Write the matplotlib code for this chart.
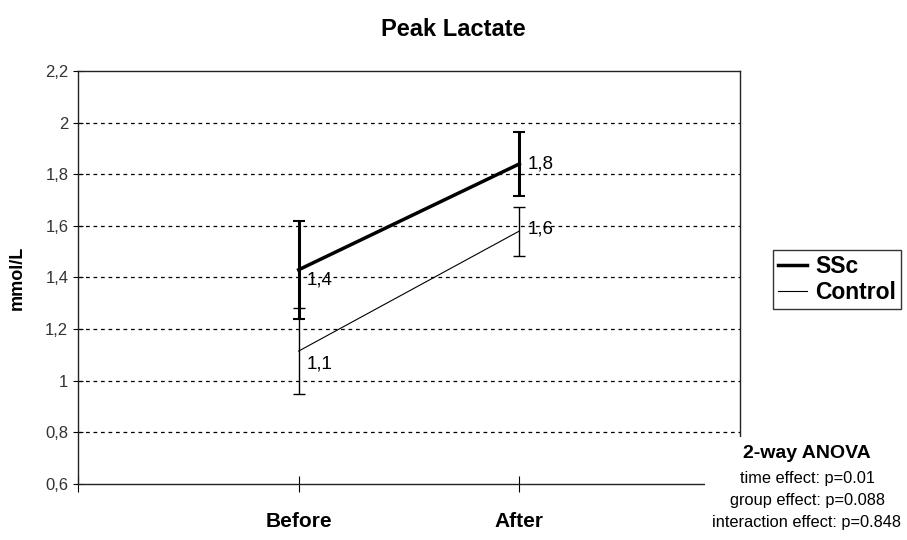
import matplotlib.pyplot as plt
from matplotlib.patches import Rectangle
from matplotlib.lines import Line2D
from matplotlib.ticker import FuncFormatter

plt.rcParams['font.family'] = ['Liberation Sans', 'DejaVu Sans']

# data
categories = ['Before', 'After']
ssc = [1.43, 1.84]
ssc_err = [0.19, 0.125]
control = [1.115, 1.58]
control_err = [0.165, 0.095]
ssc_labels = ['1,4', '1,8']
control_labels = ['1,1', '1,6']
anova_lines = ['time effect: p=0.01', 'group effect: p=0.088',
               'interaction effect: p=0.848']


def main():
    fig = plt.figure(figsize=(9.07, 5.40), dpi=100)
    ax = fig.add_axes([78 / 907, 1 - 484 / 540, (740 - 78) / 907, (484 - 71) / 540])

    x = [1, 2]
    ax.errorbar(x, ssc, yerr=ssc_err, color='black', lw=2.5, elinewidth=2.2,
                capsize=4, capthick=1.5, zorder=4)
    ax.errorbar(x, control, yerr=control_err, color='black', lw=0.8,
                elinewidth=1.0, capsize=4, capthick=1.0, zorder=3)

    # data labels
    offsets = [(8, -10), (8, 0)]
    for xi, v, lab, off in zip(x, ssc, ssc_labels, offsets):
        ax.annotate(lab, (xi, v), xytext=off, textcoords='offset pixels',
                    ha='left', va='center', fontsize=13.5, zorder=6)
    offsets = [(8, -13), (8, 2)]
    for xi, v, lab, off in zip(x, control, control_labels, offsets):
        ax.annotate(lab, (xi, v), xytext=off, textcoords='offset pixels',
                    ha='left', va='center', fontsize=13.5, zorder=6)

    ax.set_xlim(0, 3)
    ax.set_ylim(0.6, 2.2)
    ax.set_xticks([0, 1, 2])
    ax.set_xticklabels(['', categories[0], categories[1]], fontsize=15, fontweight='bold')
    ax.set_yticks([0.6 + 0.2 * i for i in range(9)])
    ax.yaxis.set_major_formatter(FuncFormatter(lambda v, p: f'{v:.1f}'.rstrip('0').rstrip('.').replace('.', ',')))
    ax.tick_params(axis='y', labelsize=12, direction='inout', length=7, labelcolor='#333333')
    ax.tick_params(axis='x', direction='inout', length=12, pad=14)
    for s in ax.spines.values():
        s.set_linewidth(1.0)
        s.set_color('#222222')

    for v in [0.8 + 0.2 * i for i in range(7)]:
        ax.axhline(v, color='black', lw=0.9, ls=(0, (3, 3)), zorder=1)

    ax.set_ylabel('mmol/L', fontsize=13, fontweight='bold', labelpad=14)
    fig.text(453 / 907, 1 - 30 / 540, 'Peak Lactate', ha='center', va='center',
             fontsize=17, fontweight='bold')

    handles = [Line2D([], [], color='black', lw=2.5),
               Line2D([], [], color='black', lw=0.8)]
    leg = fig.legend(handles, ['SSc', 'Control'], loc='upper left',
                     bbox_to_anchor=(773 / 907, 1 - 250 / 540),
                     prop={'weight': 'bold', 'size': 16.5},
                     frameon=True, fancybox=False, borderpad=0.2,
                     handlelength=1.3, handletextpad=0.35, labelspacing=0.15,
                     borderaxespad=0)
    leg.get_frame().set_edgecolor('black')
    leg.get_frame().set_linewidth(1.0)

    # white box for the ANOVA note covers the corner of the plot
    fig.patches.append(Rectangle((705 / 907, 0), 202 / 907, (540 - 437) / 540,
                                 transform=fig.transFigure, facecolor='white',
                                 edgecolor='none', zorder=5))
    fig.text(807 / 907, 1 - 453 / 540, '2-way ANOVA', ha='center', va='center',
             fontsize=14, fontweight='bold', zorder=6)
    for i, line in enumerate(anova_lines):
        fig.text(807 / 907, 1 - (478 + 22 * i) / 540, line, ha='center', va='center',
                 fontsize=11.8, zorder=6)

    fig.savefig('out.png', dpi=100)


if __name__ == '__main__':
    main()
